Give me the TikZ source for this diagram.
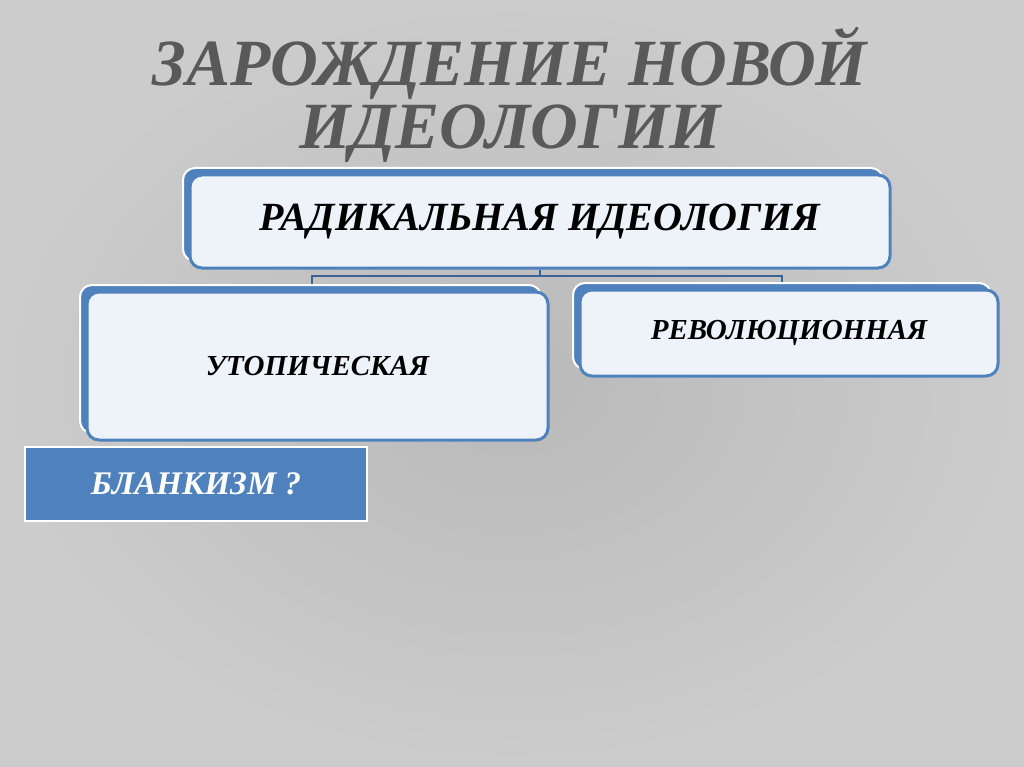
\documentclass[tikz,border=0pt]{standalone}
\usepackage{fontspec}
\setmainfont{Liberation Serif}
\usetikzlibrary{shadows}
\definecolor{boxblue}{HTML}{4F81BD}
\definecolor{boxfill}{HTML}{EEF2F9}
\definecolor{linkblue}{HTML}{3A6396}
\definecolor{titlegray}{HTML}{595959}
\pgfdeclarelayer{back}
\pgfdeclarelayer{lines}
\pgfsetlayers{back,lines,main}
\tikzset{
  frontbox/.style={draw=boxblue, fill=boxfill, line width=3pt, rounded corners=12pt,
    inner sep=0pt, align=center, font=\bfseries\itshape,
    general shadow={shadow xshift=-7pt, shadow yshift=7pt, fill=boxblue, draw=white, line width=2pt}},
  blankbox/.style={draw=white, fill=boxblue, line width=2.5pt, inner sep=0pt,
    text=white, font=\bfseries\itshape},
  link/.style={draw=linkblue, line width=2pt}
}
\begin{document}
\begin{tikzpicture}[x=1pt, y=-1pt]
\begin{pgfonlayer}{back}
\shade[inner color=gray!55!white, outer color=gray!40!white] (0,0) rectangle (1024,767);
\end{pgfonlayer}
\useasboundingbox (0,0) rectangle (1024,767);
% title
\node[text=titlegray, font=\fontsize{66}{63}\selectfont\bfseries\itshape, align=center] (title) at (510,95)
  {ЗАРОЖДЕНИЕ НОВОЙ\\ИДЕОЛОГИИ};
% boxes
\node[frontbox, minimum width=700pt, minimum height=93pt] (radical) at (540,221.5)
  {\fontsize{40}{44}\selectfont РАДИКАЛЬНАЯ ИДЕОЛОГИЯ};
\node[frontbox, minimum width=461pt, minimum height=148pt] (utopia) at (317.5,366)
  {\fontsize{29}{32}\selectfont УТОПИЧЕСКАЯ};
\node[frontbox, minimum width=418pt, minimum height=86pt] (revol) at (789,333)
  {\fontsize{29}{32}\selectfont РЕВОЛЮЦИОННАЯ};
\node[blankbox, minimum width=342pt, minimum height=74pt] (blanq) at (196,484)
  {\fontsize{33}{36}\selectfont БЛАНКИЗМ ?};
% connectors
\coordinate (busL) at (312,276);
\coordinate (busR) at (782,276);
\begin{pgfonlayer}{lines}
\draw[link] (radical.south) -- (radical.south |- busL);
\draw[link] (utopia.north -| busL) -- (busL) -- (busR) -- (revol.north -| busR);
\end{pgfonlayer}
\end{tikzpicture}
\end{document}
